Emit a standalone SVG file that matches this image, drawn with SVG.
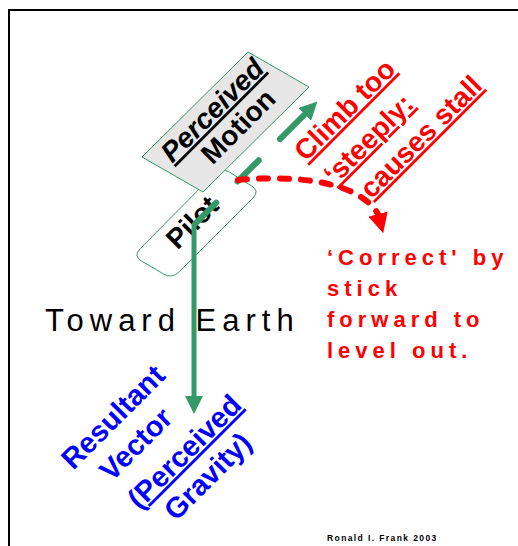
<svg xmlns="http://www.w3.org/2000/svg" width="518" height="546" viewBox="0 0 518 546">
<style>
text{font-family:"Liberation Sans",Arial,sans-serif;}
.rot{font-size:28px;font-weight:bold;text-anchor:middle;}
.ul{text-decoration:underline;text-decoration-thickness:3px;}
.red{fill:#ff0000;}
.blue{fill:#0000ff;font-size:29px;}
.box{stroke:#339966;stroke-width:1;}
.gline{fill:none;stroke:#339966;}
.rline{fill:none;stroke:#ff0000;stroke-width:6;stroke-linecap:round;stroke-dasharray:9 12;}
.note{font-size:22px;font-weight:bold;fill:#ff0000;letter-spacing:5px;}
</style>
<defs>
<marker id="ag" viewBox="0 0 10 10" refX="0" refY="5" markerWidth="18" markerHeight="18" markerUnits="userSpaceOnUse" orient="auto">
<path d="M0,0 L10,5 L0,10 Z" fill="#339966"/>
</marker>
<marker id="ar" viewBox="0 0 10 10" refX="0" refY="5" markerWidth="20" markerHeight="20" markerUnits="userSpaceOnUse" orient="75">
<path d="M0,0 L10,5 L0,10 Z" fill="#ff0000"/>
</marker>
</defs>
<rect x="9" y="10" width="530" height="560" fill="none" stroke="#000" stroke-width="2"/>

<g id="pilot">
<path class="box" fill="#ffffff" d="M229.5,172.2 L251.5,185.8 Q260,191 252.9,198.1 L179.1,271.9 Q172,279 163.4,273.9 L141.6,261.1 Q133,256 140,248.9 L214,174.1 Q221,167 229.5,172.2 Z"/>
<text class="rot" transform="translate(199,229) rotate(-45)">Pilot</text>
</g>

<g id="perceived-motion">
<polygon class="box" fill="#e6e6e6" points="248,52 309,87 203,192 142,157"/>
<text class="rot ul" font-style="italic" transform="translate(219,117) rotate(-45)">Perceived</text>
<text class="rot" transform="translate(245,133) rotate(-45)">Motion</text>
</g>

<g id="toward-earth">
<text x="45" y="331" font-size="31" letter-spacing="6" fill="#000">Toward Earth</text>
</g>

<g id="climb">
<text class="rot ul red" transform="translate(351.4,116.6) rotate(-45)">Climb too</text>
<text class="rot ul red" transform="translate(375.3,145.7) rotate(-45)">‘steeply:</text>
<text class="rot ul red" transform="translate(427.6,143.5) rotate(-45)">causes stall</text>
</g>

<g id="correct">
<text class="note" x="327" y="265">‘Correct' by</text>
<text class="note" x="327" y="296">stick</text>
<text class="note" x="327" y="327">forward to</text>
<text class="note" x="327" y="358">level out.</text>
</g>

<g id="resultant">
<text class="rot blue" transform="translate(120,424) rotate(-45)">Resultant</text>
<text class="rot blue" transform="translate(142.8,451.2) rotate(-45)">Vector</text>
<text class="rot blue" transform="translate(191.4,458.6) rotate(-45)">(<tspan class="ul">Perceived</tspan></text>
<text class="rot blue" transform="translate(214.7,483.3) rotate(-45)">Gravity)</text>
</g>

<g id="credit">
<text x="327" y="541" font-size="8.5" font-weight="bold" letter-spacing="1.4" fill="#000">Ronald I. Frank 2003</text>
</g>

<g id="connectors">
<path class="gline" stroke-width="6" stroke-linecap="round" stroke-dasharray="30 30 30 30 35 100" d="M195.1,223.9 L304.7,114.3" marker-end="url(#ag)"/>
<path class="gline" stroke-width="5" d="M194,224 L194,396" marker-end="url(#ag)"/>
<path class="rline" d="M238,180 C292,175 358,180 378,214" marker-end="url(#ar)"/>
</g>
</svg>
